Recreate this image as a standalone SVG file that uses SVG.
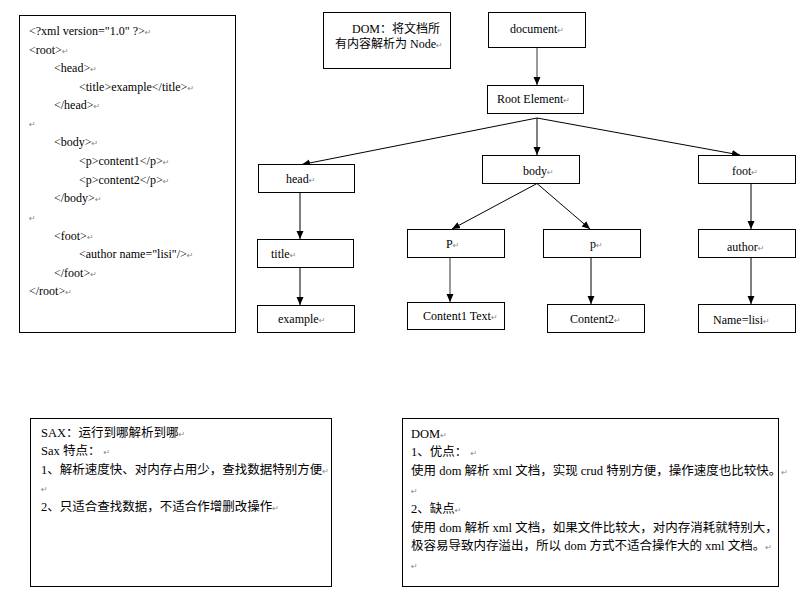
<svg xmlns="http://www.w3.org/2000/svg" width="806" height="602" viewBox="0 0 806 602">
<defs>
<style>
.box{fill:#fff;stroke:#000;stroke-width:1}
.t{font-family:"Liberation Serif","Noto Sans CJK SC",serif;font-size:12px;fill:#000}
.c{font-family:"Liberation Serif","Noto Sans CJK SC",serif;font-size:12.5px;fill:#000}
.pm{font-family:"DejaVu Sans",sans-serif;font-size:8px;fill:#888}
.ln{stroke:#000;stroke-width:1;fill:none}
.lg{stroke:#777;stroke-width:1.5;fill:none}
</style>
<marker id="ah" markerUnits="userSpaceOnUse" markerWidth="9" markerHeight="8" refX="8" refY="3.5" orient="auto">
<path d="M0,0 L8,3.5 L0,7 z" fill="#000"/>
</marker>
</defs>
<rect width="806" height="602" fill="#fff"/>

<g id="xml-source">
<rect class="box" x="19.5" y="15.5" width="216" height="317"/>
<text class="t" x="29" y="35">&lt;?xml version="1.0" ?&gt;<tspan class="pm">↵</tspan></text>
<text class="t" x="29" y="53.5">&lt;root&gt;<tspan class="pm">↵</tspan></text>
<text class="t" x="54" y="72">&lt;head&gt;<tspan class="pm">↵</tspan></text>
<text class="t" x="79" y="90.7">&lt;title&gt;example&lt;/title&gt;<tspan class="pm">↵</tspan></text>
<text class="t" x="54" y="109">&lt;/head&gt;<tspan class="pm">↵</tspan></text>
<text class="pm" x="29" y="127">↵</text>
<text class="t" x="54" y="146">&lt;body&gt;<tspan class="pm">↵</tspan></text>
<text class="t" x="79" y="165">&lt;p&gt;content1&lt;/p&gt;<tspan class="pm">↵</tspan></text>
<text class="t" x="79" y="183.5">&lt;p&gt;content2&lt;/p&gt;<tspan class="pm">↵</tspan></text>
<text class="t" x="54" y="202">&lt;/body&gt;<tspan class="pm">↵</tspan></text>
<text class="pm" x="29" y="220.5">↵</text>
<text class="t" x="54" y="239.5">&lt;foot&gt;<tspan class="pm">↵</tspan></text>
<text class="t" x="79" y="258">&lt;author name="lisi"/&gt;<tspan class="pm">↵</tspan></text>
<text class="t" x="54" y="276.5">&lt;/foot&gt;<tspan class="pm">↵</tspan></text>
<text class="t" x="29" y="295">&lt;/root&gt;<tspan class="pm">↵</tspan></text>
</g>

<g id="dom-note">
<rect class="box" x="323.5" y="12.5" width="127" height="56"/>
<text class="t" x="352" y="32.5">DOM：将文档所</text>
<text class="t" x="335" y="47.5">有内容解析为 Node<tspan class="pm">↵</tspan></text>
</g>

<g id="connectors">
<line class="lg" x1="537" y1="47.5" x2="537" y2="85" marker-end="url(#ah)"/>
<line class="ln" x1="537" y1="118" x2="302" y2="164.5" marker-end="url(#ah)"/>
<line class="ln" x1="537" y1="118" x2="537" y2="155" marker-end="url(#ah)"/>
<line class="ln" x1="537" y1="118" x2="740" y2="155" marker-end="url(#ah)"/>
<line class="ln" x1="300" y1="192.5" x2="300" y2="239" marker-end="url(#ah)"/>
<line class="ln" x1="300" y1="267.5" x2="300" y2="305" marker-end="url(#ah)"/>
<line class="ln" x1="537" y1="183.5" x2="452" y2="229" marker-end="url(#ah)"/>
<line class="ln" x1="537" y1="183.5" x2="590" y2="229" marker-end="url(#ah)"/>
<line class="lg" x1="450" y1="257.5" x2="450" y2="302" marker-end="url(#ah)"/>
<line class="ln" x1="591" y1="257.5" x2="591" y2="304" marker-end="url(#ah)"/>
<line class="ln" x1="751" y1="183.5" x2="751" y2="229" marker-end="url(#ah)"/>
<line class="ln" x1="751" y1="257.5" x2="751" y2="304" marker-end="url(#ah)"/>
</g>

<g id="document">
<rect class="box" x="488.5" y="12.5" width="97" height="35"/>
<text class="t" x="510" y="32.5">document<tspan class="pm">↵</tspan></text>
</g>
<g id="root-element">
<rect class="box" x="487.5" y="85.5" width="96" height="28"/>
<text class="t" x="497" y="103">Root Element<tspan class="pm">↵</tspan></text>
</g>
<g id="head">
<rect class="box" x="258.5" y="164.5" width="96" height="28"/>
<text class="t" x="286" y="183">head<tspan class="pm">↵</tspan></text>
</g>
<g id="body">
<rect class="box" x="482.5" y="155.5" width="97" height="28"/>
<text class="t" x="523" y="174.5">body<tspan class="pm">↵</tspan></text>
</g>
<g id="foot">
<rect class="box" x="698.5" y="155.5" width="97" height="28"/>
<text class="t" x="732" y="174.5">foot<tspan class="pm">↵</tspan></text>
</g>
<g id="title">
<rect class="box" x="257.5" y="239.5" width="96" height="28"/>
<text class="t" x="271" y="258">title<tspan class="pm">↵</tspan></text>
</g>
<g id="p1">
<rect class="box" x="407.5" y="229.5" width="97" height="28"/>
<text class="t" x="446" y="248">P<tspan class="pm">↵</tspan></text>
</g>
<g id="p2">
<rect class="box" x="543.5" y="229.5" width="97" height="28"/>
<text class="t" x="590" y="248">p<tspan class="pm">↵</tspan></text>
</g>
<g id="author">
<rect class="box" x="698.5" y="229.5" width="97" height="28"/>
<text class="t" x="727" y="250.5">author<tspan class="pm">↵</tspan></text>
</g>
<g id="example">
<rect class="box" x="257.5" y="305.5" width="97" height="27"/>
<text class="t" x="278" y="323">example<tspan class="pm">↵</tspan></text>
</g>
<g id="content1">
<rect class="box" x="407.5" y="302.5" width="97" height="27"/>
<text class="t" x="423" y="320">Content1 Text<tspan class="pm">↵</tspan></text>
</g>
<g id="content2">
<rect class="box" x="547.5" y="304.5" width="97" height="28"/>
<text class="t" x="570" y="323">Content2<tspan class="pm">↵</tspan></text>
</g>
<g id="name-lisi">
<rect class="box" x="698.5" y="304.5" width="97" height="28"/>
<text class="t" x="713" y="324">Name=lisi<tspan class="pm">↵</tspan></text>
</g>

<g id="sax-note">
<rect class="box" x="30.5" y="418.5" width="301" height="168"/>
<text class="c" x="41" y="436.5">SAX：运行到哪解析到哪<tspan class="pm">↵</tspan></text>
<text class="c" x="41" y="455">Sax 特点： <tspan class="pm">↵</tspan></text>
<text class="c" x="41" y="473.5">1、解析速度快、对内存占用少，查找数据特别方便<tspan class="pm">↵</tspan></text>
<text class="pm" x="41" y="492">↵</text>
<text class="c" x="41" y="510.5">2、只适合查找数据，不适合作增删改操作<tspan class="pm">↵</tspan></text>
</g>

<g id="dom-summary">
<rect class="box" x="402.5" y="418.5" width="376" height="168"/>
<text class="c" x="411" y="437.5">DOM<tspan class="pm">↵</tspan></text>
<text class="c" x="411" y="456">1、优点： <tspan class="pm">↵</tspan></text>
<text class="c" x="411" y="475">使用 dom 解析 xml 文档，实现 crud 特别方便，操作速度也比较快。<tspan class="pm">↵</tspan></text>
<text class="pm" x="411" y="494">↵</text>
<text class="c" x="411" y="513">2、缺点<tspan class="pm">↵</tspan></text>
<text class="c" x="411" y="531.5">使用 dom 解析 xml 文档，如果文件比较大，对内存消耗就特别大，</text>
<text class="c" x="411" y="550">极容易导致内存溢出，所以 dom 方式不适合操作大的 xml 文档。<tspan class="pm">↵</tspan></text>
<text class="pm" x="411" y="568.5">↵</text>
</g>
</svg>
